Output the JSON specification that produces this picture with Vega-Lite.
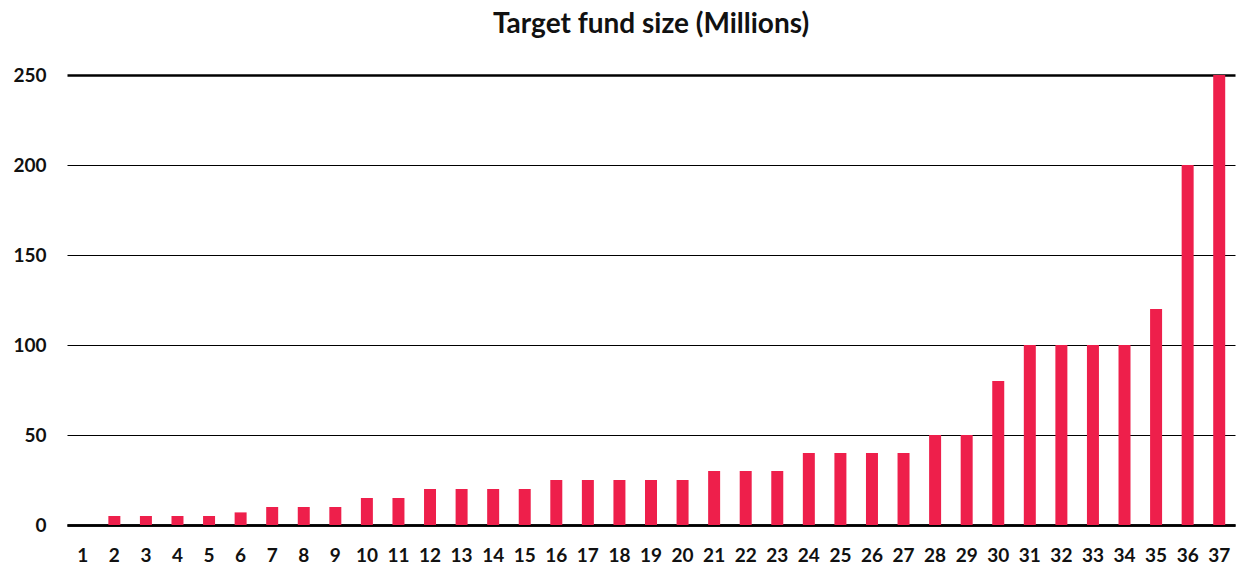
{
  "$schema": "https://vega.github.io/schema/vega-lite/v6.json",
  "autosize": "none",
  "width": 1168,
  "height": 450,
  "padding": {"left": 67, "top": 75, "right": 1, "bottom": 49},
  "background": "white",
  "config": {"view": {"stroke": null}, "font": "Lato"},
  "title": {"text": "Target fund size (Millions)", "font": "Lato", "fontSize": 28, "fontWeight": "bold", "color": "#111111", "offset": 27, "anchor": "middle"},
  "data": {"values": [
    {"id": "1", "value": 0}, {"id": "2", "value": 5}, {"id": "3", "value": 5}, {"id": "4", "value": 5},
    {"id": "5", "value": 5}, {"id": "6", "value": 7}, {"id": "7", "value": 10}, {"id": "8", "value": 10},
    {"id": "9", "value": 10}, {"id": "10", "value": 15}, {"id": "11", "value": 15}, {"id": "12", "value": 20},
    {"id": "13", "value": 20}, {"id": "14", "value": 20}, {"id": "15", "value": 20}, {"id": "16", "value": 25},
    {"id": "17", "value": 25}, {"id": "18", "value": 25}, {"id": "19", "value": 25}, {"id": "20", "value": 25},
    {"id": "21", "value": 30}, {"id": "22", "value": 30}, {"id": "23", "value": 30}, {"id": "24", "value": 40},
    {"id": "25", "value": 40}, {"id": "26", "value": 40}, {"id": "27", "value": 40}, {"id": "28", "value": 50},
    {"id": "29", "value": 50}, {"id": "30", "value": 80}, {"id": "31", "value": 100}, {"id": "32", "value": 100},
    {"id": "33", "value": 100}, {"id": "34", "value": 100}, {"id": "35", "value": 120}, {"id": "36", "value": 200},
    {"id": "37", "value": 250}
  ]},
  "mark": {"type": "bar", "color": "#EE1F4B"},
  "encoding": {
    "x": {"field": "id", "type": "ordinal", "sort": null,
      "scale": {"paddingInner": 0.62, "paddingOuter": 0.31},
      "axis": {"title": null, "labelAngle": 0, "labelFont": "Lato", "labelFontSize": 19, "labelFontWeight": "bold", "labelColor": "#111111",
        "ticks": false, "labelPadding": 21, "domain": true, "domainColor": "#000000", "domainWidth": 2.5, "grid": false}},
    "y": {"field": "value", "type": "quantitative",
      "scale": {"domain": [0, 250], "nice": false},
      "axis": {"title": null, "values": [0, 50, 100, 150, 200, 250], "labelFont": "Lato", "labelFontSize": 19, "labelFontWeight": "bold", "labelColor": "#111111",
        "ticks": false, "labelPadding": 21, "domain": false, "grid": true, "gridColor": "#000000",
        "gridWidth": {"condition": {"test": "datum.value == 250 || datum.value == 0", "value": 2.5}, "value": 1}}}
  }
}
